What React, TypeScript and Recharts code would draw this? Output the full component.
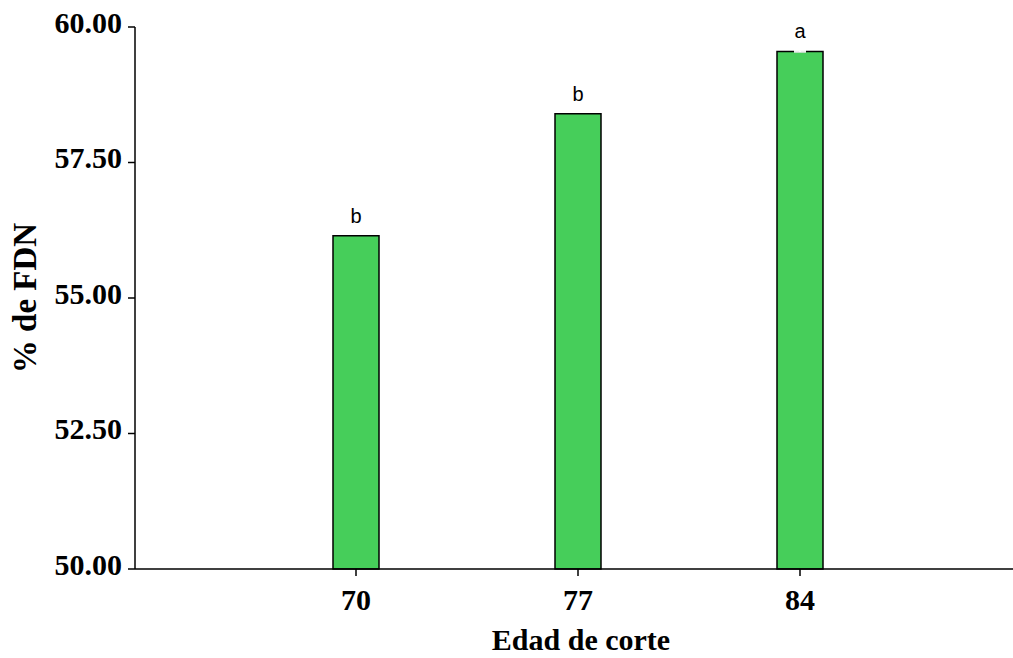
import React from 'react';
import { BarChart, Bar, XAxis, YAxis, LabelList, ErrorBar } from 'recharts';

document.body.style.margin = '0';

const ages = ['70', '77', '84'];
const fdn = [56.15, 58.4, 59.55];
const letters = ['b', 'b', 'a'];
const errors = [0, 0, 0.01];
const yTicks = [50, 52.5, 55, 57.5, 60];

const data = ages.map((age, i) => ({
  age,
  fdn: fdn[i],
  letter: letters[i],
  err: errors[i]
}));

const serif = '"Liberation Serif", "Times New Roman", serif';

export default function App() {
  return (
    <div style={{ width: 1013, height: 658, background: '#fff' }}>
      <BarChart
        width={1013}
        height={658}
        data={data}
        margin={{ top: 27, right: 0, left: 0, bottom: 0 }}
      >
        <XAxis
          dataKey="age"
          height={89}
          padding={{ left: 110, right: 102 }}
          tickSize={7}
          tickMargin={13}
          stroke="#000"
          strokeWidth={1.5}
          tick={{ fill: '#000', fontFamily: serif, fontWeight: 'bold', fontSize: 30 }}
          label={{
            value: 'Edad de corte',
            position: 'insideBottom',
            offset: 8,
            dx: 7,
            style: { fill: '#000', fontFamily: serif, fontWeight: 'bold', fontSize: 30 }
          }}
        />
        <YAxis
          type="number"
          domain={[50, 60]}
          ticks={yTicks}
          width={135}
          tickSize={7}
          tickMargin={6}
          stroke="#000"
          strokeWidth={1.5}
          tickFormatter={(v: number) => v.toFixed(2)}
          tick={{ fill: '#000', fontFamily: serif, fontWeight: 'bold', fontSize: 30, dy: -5 }}
          label={{
            value: '% de FDN',
            angle: -90,
            position: 'insideLeft',
            offset: 24,
            style: { textAnchor: 'middle', fill: '#000', fontFamily: serif, fontWeight: 'bold', fontSize: 33 }
          }}
        />
        <Bar
          dataKey="fdn"
          fill="#46CE5A"
          stroke="#000"
          strokeWidth={1.5}
          barSize={46}
          isAnimationActive={false}
        >
          <ErrorBar dataKey="err" width={6} stroke="#fff" strokeWidth={1.5} />
          <LabelList
            dataKey="letter"
            position="top"
            offset={13}
            fill="#000"
            fontSize={20}
            fontFamily='"Liberation Sans", Arial, sans-serif'
          />
        </Bar>
      </BarChart>
    </div>
  );
}
